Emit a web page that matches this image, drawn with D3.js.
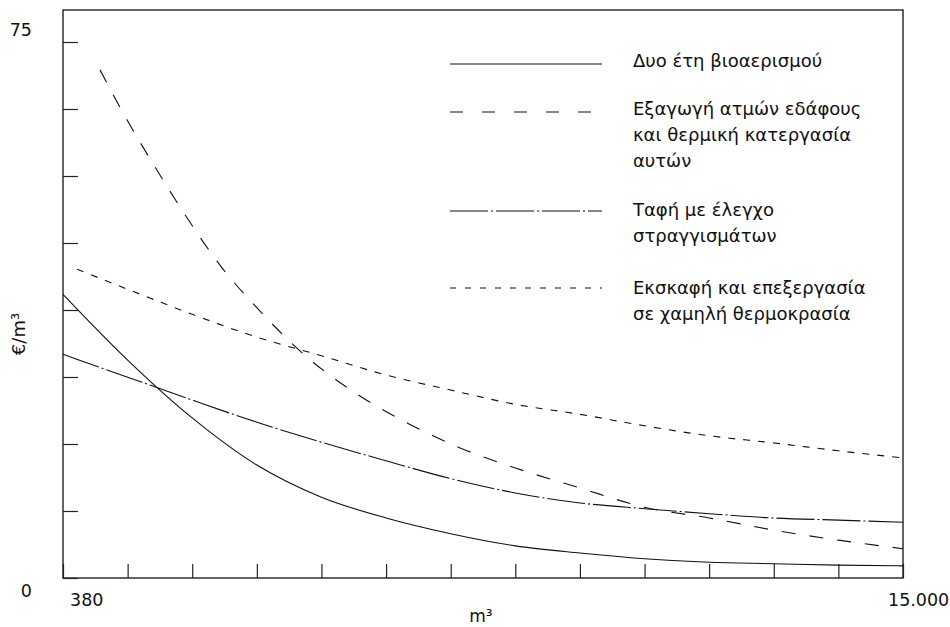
<!DOCTYPE html>
<html>
<head>
<meta charset="utf-8">
<script src="https://cdn.jsdelivr.net/npm/d3@7"></script>
<style>
  html, body { margin: 0; padding: 0; background: #fff; }
  svg { display: block; font-family: "DejaVu Sans", Verdana, sans-serif; }
</style>
</head>
<body>
<svg id="chart" width="950" height="627"></svg>
<script>
// ---- data ----
const xTickValues = [380, 1505, 2629, 3754, 4878, 6003, 7128, 8252, 9377, 10502, 11626, 12751, 13875, 15000];
const xTickLabels = ["380", "", "", "", "", "", "", "", "", "", "", "", "", "15.000"];
const yTickValues = [0, 9.375, 18.75, 28.125, 37.5, 46.875, 56.25, 65.625, 75];
const yTickLabels = ["0", "", "", "", "", "", "", "", "75"];

const seriesNames = [
  ["Δυο έτη βιοαερισμού"],
  ["Εξαγωγή ατμών εδάφους", "και θερμική κατεργασία", "αυτών"],
  ["Ταφή με έλεγχο", "στραγγισμάτων"],
  ["Εκσκαφή και επεξεργασία", "σε χαμηλή θερμοκρασία"]
];

// Δυο έτη βιοαερισμού (solid)
const bioX = [380, 1505, 2629, 3754, 4878, 6003, 7128, 8252, 9377, 10502, 11626, 12751, 13875, 15000];
const bioY = [39.7, 30.5, 22.4, 15.8, 11.3, 8.4, 6.2, 4.5, 3.5, 2.7, 2.2, 2.0, 1.8, 1.7];

// Εξαγωγή ατμών εδάφους (long dash)
const vapX = [1024, 1425, 1982, 2539, 3148, 3757, 4628, 5464, 6369, 7292, 8252, 9377, 10502, 11626, 12751, 13875, 15000];
const vapY = [71.1, 65.1, 57.5, 50.4, 43.4, 37.8, 30.9, 25.9, 21.7, 18.2, 15.4, 12.6, 9.9, 8.4, 6.7, 5.3, 4.1];

// Ταφή με έλεγχο στραγγισμάτων (dash-dot)
const landX = [380, 1505, 2629, 3754, 4878, 6003, 7128, 8252, 9377, 10502, 11626, 12751, 13875, 15000];
const landY = [31.3, 28.1, 24.9, 21.8, 19.0, 16.4, 13.9, 11.9, 10.5, 9.7, 9.0, 8.4, 8.1, 7.8];

// Εκσκαφή και επεξεργασία σε χαμηλή θερμοκρασία (short dash)
const excX = [624, 1505, 2629, 3754, 4878, 6003, 7128, 8252, 9377, 10502, 11626, 12751, 13875, 15000];
const excY = [43.2, 40.4, 36.9, 33.7, 31.1, 28.4, 26.3, 24.3, 22.9, 21.3, 19.9, 18.9, 17.8, 16.8];

const dashPatterns = [null, "14,14", "38,3,2,3", "7,8"];
const legendDash = [null, "13,19", "38,3,2,3", "6,9"];

// ---- layout ----
const W = 950, H = 627;
const margin = { left: 63, top: 10, right: 47, bottom: 49 };
const svg = d3.select("#chart");

const x = d3.scaleLinear().domain([380, 15000]).range([margin.left, W - margin.right]);
const y = d3.scaleLinear().domain([0, 75]).range([H - margin.bottom, 42]);

// frame
svg.append("rect")
  .attr("x", margin.left).attr("y", margin.top)
  .attr("width", W - margin.left - margin.right)
  .attr("height", H - margin.top - margin.bottom)
  .attr("fill", "none").attr("stroke", "#111").attr("stroke-width", 1.3);

// x axis ticks (inward)
const xAxis = d3.axisTop(x).tickValues(xTickValues).tickSize(14).tickFormat(() => "");
const gx = svg.append("g").attr("transform", `translate(0,${H - margin.bottom})`).call(xAxis);
gx.select(".domain").remove();
gx.selectAll(".tick line").attr("stroke", "#222").attr("stroke-width", 1.2);

// y axis ticks (inward)
const yAxis = d3.axisRight(y).tickValues(yTickValues).tickSize(15).tickFormat(() => "");
const gy = svg.append("g").attr("transform", `translate(${margin.left},0)`).call(yAxis);
gy.select(".domain").remove();
gy.selectAll(".tick line").attr("stroke", "#222").attr("stroke-width", 1.2);

// tick labels
const fsAxis = 17.5;
const fsLegend = 18;
xTickValues.forEach((v, i) => {
  if (!xTickLabels[i]) return;
  svg.append("text")
    .attr("x", i === 0 ? x(v) + 7 : x(v) - 15)
    .attr("y", 606)
    .attr("font-size", fsAxis)
    .attr("fill", "#111")
    .text(xTickLabels[i]);
});
yTickValues.forEach((v, i) => {
  if (!yTickLabels[i]) return;
  svg.append("text")
    .attr("x", 32)
    .attr("y", i === 0 ? y(v) + 19 : y(v) - 6)
    .attr("text-anchor", "end")
    .attr("font-size", fsAxis)
    .attr("fill", "#111")
    .text(yTickLabels[i]);
});

// axis titles
svg.append("text")
  .attr("x", 481).attr("y", 622)
  .attr("text-anchor", "middle")
  .attr("font-size", 17).attr("fill", "#111")
  .text("m³");
svg.append("text")
  .attr("transform", "translate(25,334) rotate(-90)")
  .attr("text-anchor", "middle")
  .attr("font-size", fsLegend).attr("fill", "#111")
  .text("€/m³");

// curves
const seriesX = [bioX, vapX, landX, excX];
const seriesY = [bioY, vapY, landY, excY];
const line = d3.line().x(d => x(d[0])).y(d => y(d[1])).curve(d3.curveMonotoneX);

seriesX.forEach((xs, s) => {
  const pts = xs.map((xv, i) => [xv, seriesY[s][i]]);
  svg.append("path")
    .attr("d", line(pts))
    .attr("fill", "none")
    .attr("stroke", "#111")
    .attr("stroke-width", 1.1)
    .attr("stroke-dasharray", dashPatterns[s]);
});

// legend
const legendLineY = [64, 112, 211, 288];
const legendTextY = [61, 109, 210, 288];
const lineH = 26;
seriesNames.forEach((lines, s) => {
  svg.append("line")
    .attr("x1", 450).attr("x2", 602)
    .attr("y1", legendLineY[s]).attr("y2", legendLineY[s])
    .attr("stroke", "#111").attr("stroke-width", 1.1)
    .attr("stroke-dasharray", legendDash[s]);
  lines.forEach((t, j) => {
    svg.append("text")
      .attr("x", 633)
      .attr("y", legendTextY[s] + j * lineH)
      .attr("dy", "0.35em")
      .attr("font-size", fsLegend)
      .attr("fill", "#111")
      .text(t);
  });
});
</script>
</body>
</html>
